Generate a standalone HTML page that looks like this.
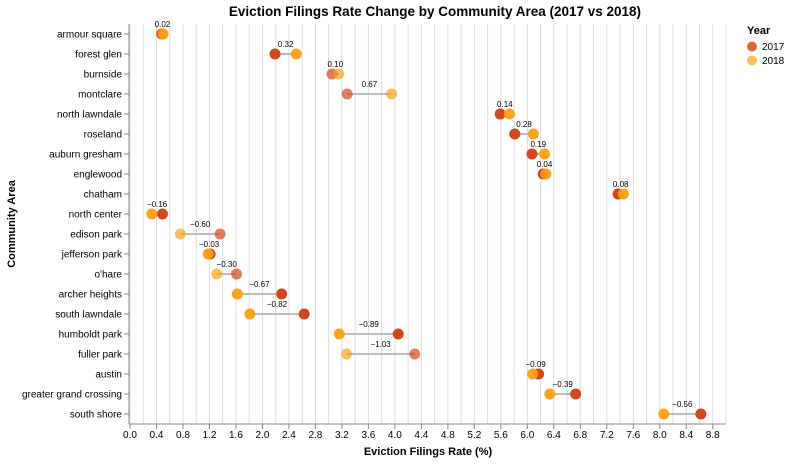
<!DOCTYPE html>
<html><head><meta charset="utf-8"><style>
body{margin:0;background:#fff;font-family:"Liberation Sans",sans-serif}
svg text{font-family:"Liberation Sans",sans-serif}
</style></head><body>
<svg id="c" width="790" height="461"></svg>
<script>
const categories=["armour square","forest glen","burnside","montclare","north lawndale","roseland","auburn gresham","englewood","chatham","north center","edison park","jefferson park","o'hare","archer heights","south lawndale","humboldt park","fuller park","austin","greater grand crossing","south shore"];
const values2017=[0.48,2.19,3.05,3.28,5.59,5.81,6.07,6.24,7.37,0.49,1.36,1.21,1.61,2.29,2.63,4.05,4.30,6.17,6.73,8.62];
const values2018=[0.50,2.51,3.15,3.95,5.73,6.09,6.26,6.28,7.45,0.33,0.76,1.18,1.31,1.62,1.81,3.16,3.27,6.08,6.34,8.06];
const diffLabels=["0.02","0.32","0.10","0.67","0.14","0.28","0.19","0.04","0.08","\u22120.16","\u22120.60","\u22120.03","\u22120.30","\u22120.67","\u22120.82","\u22120.89","\u22121.03","\u22120.09","\u22120.39","\u22120.56"];
const faded=[false,false,true,true,false,false,false,false,false,false,true,false,true,false,false,false,true,false,false,false];
const xTicks=[0,0.4,0.8,1.2,1.6,2.0,2.4,2.8,3.2,3.6,4.0,4.4,4.8,5.2,5.6,6.0,6.4,6.8,7.2,7.6,8.0,8.4,8.8];

const svg=document.getElementById('c');const NS='http://www.w3.org/2000/svg';
function mk(t,a,p){const e=document.createElementNS(NS,t);for(const k in a)e.setAttribute(k,a[k]);(p||svg).appendChild(e);return e;}
const L=129,R=726,T=24,B=424;
const x=v=>L+1+v*(R-L-1)/9;
const step=(B-T)/categories.length;
const y=i=>T+step*(i+0.5);
for(let g=0;g<=45;g++){const v=g*0.2;const l=mk('line',{x1:x(v),x2:x(v),y1:T,y2:B,stroke:'#ddd','stroke-width':1});

}
const ya=mk('line',{x1:L,x2:L,y1:T,y2:B,stroke:'#888'});


const xa=mk('line',{x1:L,x2:R,y1:B,y2:B,stroke:'#888'});


xTicks.forEach(v=>{mk('line',{x1:x(v),x2:x(v),y1:B,y2:B+5,stroke:'#888'});
const t=mk('text',{x:x(v),y:B+14,'font-size':10,'text-anchor':'middle',fill:'#000'});t.textContent=v.toFixed(1);

});
categories.forEach((c,i)=>{mk('line',{x1:L-5,x2:L,y1:y(i),y2:y(i),stroke:'#888'});
const t=mk('text',{x:L-7,y:y(i)+3.5,'font-size':10,'text-anchor':'end',fill:'#000'});t.textContent=c;

});
categories.forEach((c,i)=>{
const op=faded[i]?0.7:1;
const ln=mk('line',{x1:x(values2017[i]),x2:x(values2018[i]),y1:y(i),y2:y(i),stroke:'#bbb','stroke-width':2});


const p1=mk('circle',{cx:x(values2017[i]),cy:y(i),r:5.5,fill:'#d4461a','fill-opacity':op});


const p2=mk('circle',{cx:x(values2018[i]),cy:y(i),r:5.5,fill:'#ff9f10','fill-opacity':op*0.95});


const t=mk('text',{x:(x(values2017[i])+x(values2018[i]))/2,y:y(i)-7,'font-size':8,'text-anchor':'middle',fill:'#000'});t.textContent=diffLabels[i];


});
let t=mk('text',{x:435,y:16,'font-size':13.5,'font-weight':'bold','text-anchor':'middle'});t.textContent='Eviction Filings Rate Change by Community Area (2017 vs 2018)';


t=mk('text',{x:428,y:455,'font-size':11,'font-weight':'bold','text-anchor':'middle'});t.textContent='Eviction Filings Rate (%)';


t=mk('text',{x:15,y:224,'font-size':11,'font-weight':'bold','text-anchor':'middle',transform:'rotate(-90 15 224)'});t.textContent='Community Area';


t=mk('text',{x:747,y:34,'font-size':11,'font-weight':'bold'});t.textContent='Year';


[['2017','#d4461a',50],['2018','#ffb040',64]].forEach(([lab,col,yy])=>{
const g=mk('g',{});


mk('circle',{cx:752,cy:yy-3.5,r:5,fill:col,'fill-opacity':0.85},g);
const tt=mk('text',{x:762,y:yy,'font-size':10},g);tt.textContent=lab;});
</script>
</body></html>
